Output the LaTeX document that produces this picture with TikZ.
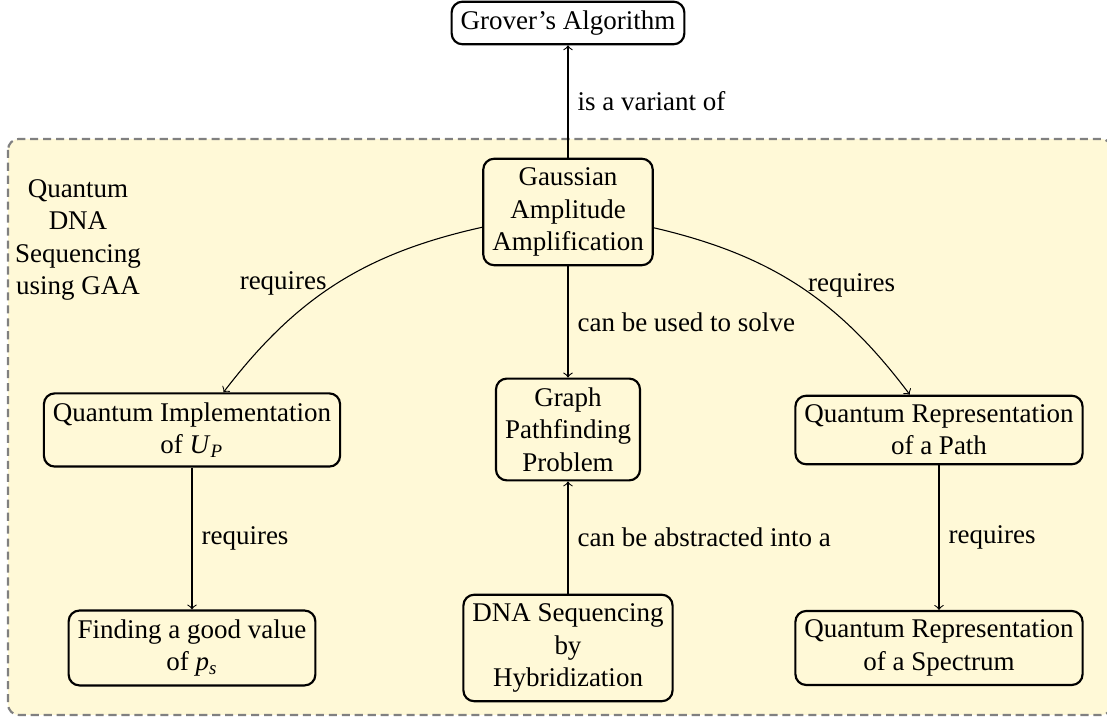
\documentclass[tikz,border=0pt]{standalone}
\usepackage{amsmath}
\usepackage{fontspec}
\setmainfont{Liberation Serif}
\definecolor{bgcream}{RGB}{255,249,215}
\begin{document}
\begin{tikzpicture}[x=0.37037pt,y=0.37037pt,
  concept/.style={draw,thick,rounded corners=4pt,align=center,fill=bgcream},
  lbl/.style={midway,right},
  arr/.style={->}]
\useasboundingbox (0,0) rectangle (1107,722);
\fill[bgcream,rounded corners=4pt] (8,583) rectangle (1112,7);
\draw[gray,line width=0.8pt,dash pattern=on 3pt off 1.8pt,rounded corners=4pt] (8,583) rectangle (1112,7);
\node[align=center] (title) at (78,482) {Quantum\\DNA\\Sequencing\\using GAA};
\node[concept,fill=white] (grover) at (568,699) {Grover's Algorithm};
\node[concept] (gaa) at (568,510) {Gaussian\\Amplitude\\Amplification};
\node[concept] (qi) at (192,292) {Quantum Implementation\\of \textit{U}$_{\textit{P}}$};
\node[concept] (graph) at (568,292.5) {Graph\\Pathfinding\\Problem};
\node[concept] (qrp) at (939,292) {Quantum Representation\\of a Path};
\node[concept] (finding) at (192,74) {Finding a good value\\of \textit{p}$_{\textit{s}}$};
\node[concept] (dna) at (568,74) {DNA Sequencing\\by\\Hybridization};
\node[concept] (qrs) at (939,74) {Quantum Representation\\of a Spectrum};
\draw[arr] (gaa.north) -- (gaa.north |- grover.south) node[lbl] {is a variant of};
\draw[arr] (gaa) -- (graph) node[lbl] {can be used to solve};
\draw[arr] (gaa) to[bend right=20] node[midway,left] {requires} (qi);
\draw[arr] (gaa) to[bend left=20] node[midway,right] {requires} (qrp);
\draw[arr] (qi) -- (finding) node[lbl] {requires};
\draw[arr] (dna) -- (graph) node[lbl] {can be abstracted into a};
\draw[arr] (qrp) -- (qrs) node[lbl] {requires};
\end{tikzpicture}
\end{document}
